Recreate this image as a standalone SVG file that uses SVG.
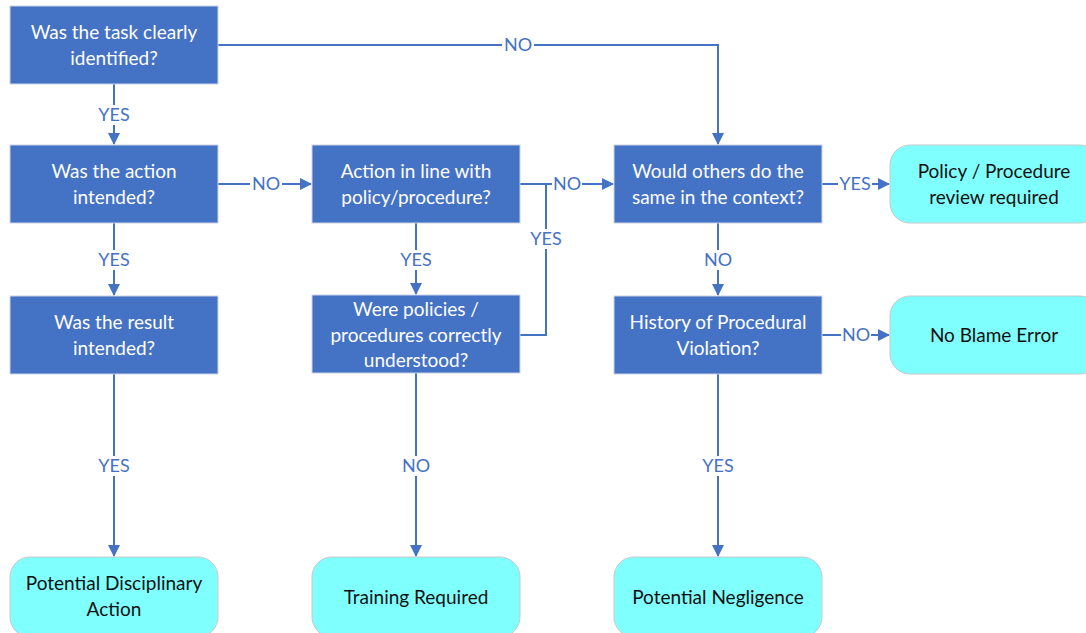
<svg xmlns="http://www.w3.org/2000/svg" width="1086" height="633" viewBox="0 0 1086 633">
<style>
.q{fill:#4472C4;stroke:#c9d3e6;stroke-width:1}
.t{fill:#80FFFF;stroke:#c8c8c8;stroke-width:1}
.qt{font-family:Lato,"Liberation Sans",sans-serif;font-size:19px;fill:#ffffff;text-anchor:middle}
.tt{font-family:Lato,"Liberation Sans",sans-serif;font-size:19px;fill:#111111;text-anchor:middle}
.c{fill:none;stroke:#4472C4;stroke-width:2}
.lb{fill:#ffffff}
.lt{font-family:Lato,"Liberation Sans",sans-serif;font-size:18px;fill:#4472C4;text-anchor:middle}
</style>
<defs>
<marker id="ah" markerWidth="12" markerHeight="12" refX="11" refY="6" orient="auto" markerUnits="userSpaceOnUse">
<path d="M0,0 L12,6 L0,12 Z" fill="#4472C4"/>
</marker>
</defs>
<rect width="1086" height="633" fill="#ffffff"/>
<g id="connectors">
<path class="c" d="M218,45 H718 V144" marker-end="url(#ah)"/>
<path class="c" d="M114,84 V144" marker-end="url(#ah)"/>
<path class="c" d="M218,184 H311" marker-end="url(#ah)"/>
<path class="c" d="M114,223 V295" marker-end="url(#ah)"/>
<path class="c" d="M114,374 V556" marker-end="url(#ah)"/>
<path class="c" d="M520,184 H613" marker-end="url(#ah)"/>
<path class="c" d="M416,223 V294" marker-end="url(#ah)"/>
<path class="c" d="M520,335 H546 V184"/>
<path class="c" d="M416,373 V556" marker-end="url(#ah)"/>
<path class="c" d="M822,184 H889" marker-end="url(#ah)"/>
<path class="c" d="M718,223 V295" marker-end="url(#ah)"/>
<path class="c" d="M822,335 H889" marker-end="url(#ah)"/>
<path class="c" d="M718,374 V556" marker-end="url(#ah)"/>
<g>
<rect class="lb" x="502" y="35" width="32" height="20"/><text class="lt" x="518" y="51">NO</text>
<rect class="lb" x="96" y="105" width="36" height="20"/><text class="lt" x="114" y="121">YES</text>
<rect class="lb" x="250" y="174" width="32" height="20"/><text class="lt" x="266" y="190">NO</text>
<rect class="lb" x="96" y="250" width="36" height="20"/><text class="lt" x="114" y="266">YES</text>
<rect class="lb" x="96" y="456" width="36" height="20"/><text class="lt" x="114" y="472">YES</text>
<rect class="lb" x="552" y="174" width="30" height="20"/><text class="lt" x="567" y="190">NO</text>
<rect class="lb" x="398" y="250" width="36" height="20"/><text class="lt" x="416" y="266">YES</text>
<rect class="lb" x="528" y="229" width="36" height="20"/><text class="lt" x="546" y="245">YES</text>
<rect class="lb" x="401" y="456" width="30" height="20"/><text class="lt" x="416" y="472">NO</text>
<rect class="lb" x="838" y="174" width="34" height="20"/><text class="lt" x="855" y="190">YES</text>
<rect class="lb" x="703" y="250" width="30" height="20"/><text class="lt" x="718" y="266">NO</text>
<rect class="lb" x="841" y="325" width="30" height="20"/><text class="lt" x="856" y="341">NO</text>
<rect class="lb" x="700" y="456" width="36" height="20"/><text class="lt" x="718" y="472">YES</text>
</g>
</g>
<g id="n1"><rect class="q" x="10" y="6" width="208" height="78"/><text class="qt" x="114" y="39">Was the task clearly</text><text class="qt" x="114" y="65">identified?</text></g>
<g id="n2"><rect class="q" x="10" y="145" width="208" height="78"/><text class="qt" x="114" y="178">Was the action</text><text class="qt" x="114" y="204">intended?</text></g>
<g id="n3"><rect class="q" x="10" y="296" width="208" height="78"/><text class="qt" x="114" y="329">Was the result</text><text class="qt" x="114" y="355">intended?</text></g>
<g id="n4"><rect class="q" x="312" y="145" width="208" height="78"/><text class="qt" x="416" y="178">Action in line with</text><text class="qt" x="416" y="204">policy/procedure?</text></g>
<g id="n5"><rect class="q" x="312" y="295" width="208" height="78"/><text class="qt" x="416" y="316">Were policies /</text><text class="qt" x="416" y="342">procedures correctly</text><text class="qt" x="416" y="367">understood?</text></g>
<g id="n6"><rect class="q" x="614" y="145" width="208" height="78"/><text class="qt" x="718" y="178">Would others do the</text><text class="qt" x="718" y="204">same in the context?</text></g>
<g id="n7"><rect class="q" x="614" y="296" width="208" height="78"/><text class="qt" x="718" y="329">History of Procedural</text><text class="qt" x="718" y="355">Violation?</text></g>
<g id="t1"><rect class="t" x="890" y="145" width="210" height="78" rx="20"/><text class="tt" x="994" y="178">Policy / Procedure</text><text class="tt" x="994" y="204">review required</text></g>
<g id="t2"><rect class="t" x="890" y="296" width="210" height="78" rx="20"/><text class="tt" x="994" y="342">No Blame Error</text></g>
<g id="t3"><rect class="t" x="10" y="557" width="208" height="80" rx="20"/><text class="tt" x="114" y="590">Potential Disciplinary</text><text class="tt" x="114" y="616">Action</text></g>
<g id="t4"><rect class="t" x="312" y="557" width="208" height="80" rx="20"/><text class="tt" x="416" y="604">Training Required</text></g>
<g id="t5"><rect class="t" x="614" y="557" width="208" height="80" rx="20"/><text class="tt" x="718" y="604">Potential Negligence</text></g>
</svg>
